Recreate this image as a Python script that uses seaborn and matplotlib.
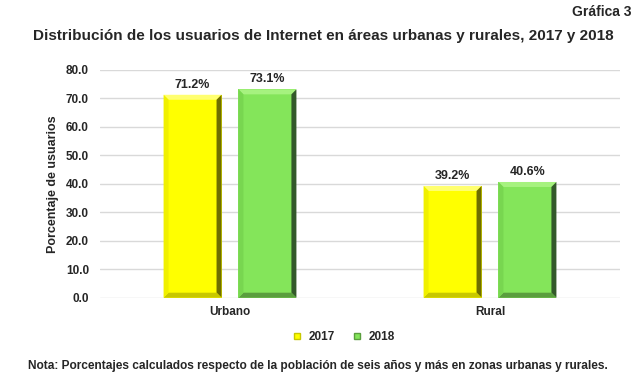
import matplotlib
matplotlib.use("Agg")
import matplotlib.pyplot as plt
import seaborn as sns
import pandas as pd
from matplotlib.patches import Polygon
from matplotlib.lines import Line2D

categories = ["Urbano", "Rural"]
years = ["2017", "2018"]
values_2017 = [71.2, 39.2]
values_2018 = [73.1, 40.6]
yticks = [0, 10, 20, 30, 40, 50, 60, 70, 80]

df = pd.DataFrame({
    "zona": categories * 2,
    "anio": [years[0]] * 2 + [years[1]] * 2,
    "valor": values_2017 + values_2018,
})

sns.set_theme(style="white")
plt.rcParams["font.family"] = ["Liberation Sans", "DejaVu Sans"]

colors = {"2017": "#FFFF00", "2018": "#84E55A"}
dark = {"2017": "#6e6e00", "2018": "#33592a"}
light = {"2017": "#FFFF70", "2018": "#A6F27F"}
mid = {"2017": "#C8C800", "2018": "#5A9E3E"}
left = {"2017": "#F0F000", "2018": "#78D650"}

fig = plt.figure(figsize=(6.44, 3.77), dpi=100)
ax = fig.add_axes([100 / 644, 1 - 297.7 / 377, 520 / 644, 228 / 377])

sns.barplot(data=df, x="zona", y="valor", hue="anio", palette=colors,
            width=0.576, gap=0.226, ax=ax, legend=False, zorder=3,
            edgecolor="none", linewidth=0, saturation=1)

ax.set_xlim(-0.5, 1.5)
ax.set_ylim(0, 80)
ax.set_yticks(yticks)
ax.set_yticklabels([f"{v:.1f}" for v in yticks], fontsize=8.5, fontweight="bold")
ax.yaxis.grid(True, color="#d9d9d9", linewidth=1, zorder=0)
ax.set_axisbelow(True)
for s in ax.spines.values():
    s.set_visible(False)
ax.tick_params(axis="y", length=0, pad=8)
ax.tick_params(axis="x", length=0, pad=6)
ax.set_xticks([0, 1])
ax.set_xticklabels(categories, fontsize=8.5, fontweight="bold")
ax.set_xlabel("")
ax.set_ylabel("Porcentaje de usuarios", fontsize=9, fontweight="bold", labelpad=5)

# bevel effect derived from library bars
px_x = 2.0 / 520
px_y = 80.0 / 228
bx = 5 * px_x
by = 5 * px_y
for cont, yr in zip(ax.containers, years):
    for bar in cont:
        x0 = bar.get_x()
        w = bar.get_width()
        h = bar.get_height()
        x1 = x0 + w
        ax.add_patch(Polygon([(x0, h), (x1, h), (x1 - bx, h - by), (x0 + bx, h - by)],
                             closed=True, facecolor=light[yr], edgecolor="none", zorder=4))
        ax.add_patch(Polygon([(x1, h), (x1, 0), (x1 - bx, by), (x1 - bx, h - by)],
                             closed=True, facecolor=dark[yr], edgecolor="none", zorder=4))
        ax.add_patch(Polygon([(x0, 0), (x1, 0), (x1 - bx, by), (x0 + bx, by)],
                             closed=True, facecolor=mid[yr], edgecolor="none", zorder=4))
        ax.add_patch(Polygon([(x0, 0), (x0, h), (x0 + bx, h - by), (x0 + bx, by)],
                             closed=True, facecolor=left[yr], edgecolor="none", zorder=4))
    ax.bar_label(cont, labels=[f"{v:.1f}%" for v in cont.datavalues], padding=3,
                 fontsize=9, fontweight="bold")

handles = [Line2D([0], [0], marker="s", linestyle="none", markersize=5,
                  markerfacecolor=colors[y], markeredgecolor=mid[y], label=y) for y in years]
fig.legend(handles=handles, loc="center", bbox_to_anchor=(340 / 644, 1 - 337 / 377),
           ncol=2, frameon=False, handletextpad=0.0, columnspacing=0.8,
           prop={"weight": "bold", "size": 8.5})

fig.text(632 / 644, 1 - 12 / 377, "Gráfica 3", ha="right", va="center",
         fontsize=10, fontweight="bold")
fig.text(323 / 644, 1 - 36 / 377,
         "Distribución de los usuarios de Internet en áreas urbanas y rurales, 2017 y 2018",
         ha="center", va="center", fontsize=11, fontweight="bold")
fig.text(28 / 644, 1 - 366 / 377,
         "Nota: Porcentajes calculados respecto de la población de seis años y más en zonas urbanas y rurales.",
         ha="left", va="center", fontsize=8.6, fontweight="bold")

fig.savefig("out.png", dpi=100)
